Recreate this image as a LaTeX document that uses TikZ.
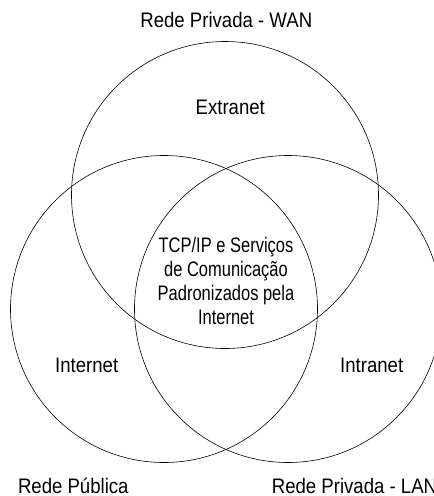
\documentclass[tikz,border=0pt]{standalone}
\usepackage{fontspec}
\usepackage{graphicx}
\setmainfont{Liberation Sans}
\newcommand{\outtxt}[1]{\scalebox{0.885}[1]{#1}}
\newcommand{\intxt}[1]{\scalebox{0.785}[1]{#1}}
\begin{document}
\begin{tikzpicture}[x=1pt,y=-1pt,
  ring/.style={draw=black,line width=0.6pt},
  lbl/.style={inner sep=0pt,anchor=base,font=\fontsize{21}{24}\selectfont},
  mid/.style={inner sep=0pt,anchor=base,font=\fontsize{21}{24}\selectfont}]
\useasboundingbox (0,0) rectangle (434,496);
\node[ring,circle,minimum size=307pt,inner sep=0pt] (wan) at (225,195) {};
\node[ring,circle,minimum size=307pt,inner sep=0pt] (pub) at (164,309) {};
\node[ring,circle,minimum size=307pt,inner sep=0pt] (lan) at (288,309) {};
\node[lbl] (twan) at (226.3,27.7) {\outtxt{Rede Privada - WAN}};
\node[lbl] (extra) at (230.3,114.3) {\outtxt{Extranet}};
\node[mid] (m1) at (226,252.6) {\intxt{TCP/IP e Serviços}};
\node[mid] (m2) at (226,276.7) {\intxt{de Comunicação}};
\node[mid] (m3) at (226,300.8) {\intxt{Padronizados pela}};
\node[mid] (m4) at (226,324.9) {\intxt{Internet}};
\node[lbl] (inet) at (86.7,372) {\outtxt{Internet}};
\node[lbl] (intra) at (371.7,372) {\outtxt{Intranet}};
\node[lbl,text depth=0pt] (tpub) at (73.3,493) {\outtxt{Rede Pública}};
\node[lbl,text depth=0pt,anchor=base west] (tlan) at (271.7,493) {\outtxt{Rede Privada - LAN}};
\end{tikzpicture}
\end{document}
